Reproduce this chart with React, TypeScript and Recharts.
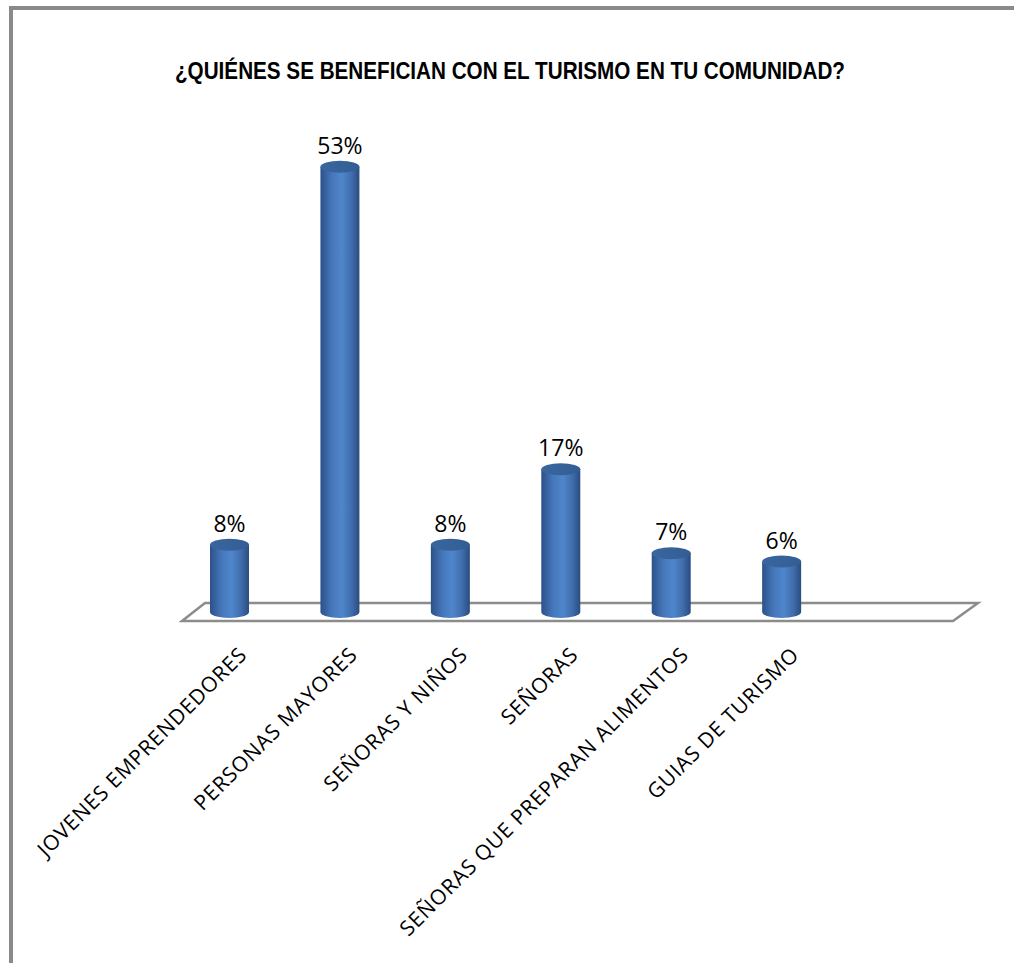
import React from 'react';
import { BarChart, Bar, XAxis, YAxis, LabelList } from 'recharts';

// Survey answers, percent of respondents
const categories = [
  'JOVENES EMPRENDEDORES',
  'PERSONAS MAYORES',
  'SEÑORAS Y NIÑOS',
  'SEÑORAS',
  'SEÑORAS QUE PREPARAN ALIMENTOS',
  'GUIAS DE TURISMO',
  '',
];
const shares: (number | null)[] = [8, 53, 8, 17, 7, 6, null];
const title = '¿QUIÉNES SE BENEFICIAN CON EL TURISMO EN TU COMUNIDAD?';

const data = categories.map((name, i) => ({ name, value: shares[i] }));

// layout
const W = 1014;
const H = 963;
const PLOT_LEFT = 174;
const PLOT_TOP = 108;
const PLOT_W = 773;
const PLOT_BOTTOM = 612;
const AXIS_H = 300;

const Cylinder = (props: any) => {
  const { x, y, width, height } = props;
  if (!height || height <= 0) return null;
  const rx = width / 2;
  const ry = 6;
  const cx = x + rx;
  const bottom = y + height;
  const body = `M ${x} ${y} L ${x} ${bottom} A ${rx} ${ry} 0 0 0 ${x + width} ${bottom} L ${x + width} ${y} Z`;
  return (
    <g>
      <path d={body} fill="url(#cylBody)" />
      <ellipse cx={cx} cy={y} rx={rx} ry={ry} fill="url(#cylTop)" />
    </g>
  );
};

const ValueLabel = (props: any) => {
  const { x, y, width, value } = props;
  if (value == null) return null;
  return (
    <text
      x={x + width / 2}
      y={y - 13}
      textAnchor="middle"
      fontFamily="'Open Sans', sans-serif"
      fontSize={23}
      fill="#000"
    >
      {`${value}%`}
    </text>
  );
};

const SlantTick = (props: any) => {
  const { x, y, payload } = props;
  if (!payload.value) return null;
  const tx = x + 19;
  const ty = y + 44;
  return (
    <text
      x={tx}
      y={ty}
      transform={`rotate(-45 ${tx} ${ty})`}
      textAnchor="end"
      fontFamily="'Open Sans', sans-serif"
      fontSize={21}
      letterSpacing={0.8}
      fill="#000"
    >
      {payload.value}
    </text>
  );
};

export default function App() {
  const floor = [
    [PLOT_LEFT + 8, PLOT_BOTTOM + 9],
    [PLOT_LEFT + 779, PLOT_BOTTOM + 9],
    [PLOT_LEFT + 804, PLOT_BOTTOM - 9],
    [PLOT_LEFT + 31, PLOT_BOTTOM - 9],
  ]
    .map((p) => p.join(','))
    .join(' ');

  return (
    <div style={{ position: 'absolute', left: 0, top: 0, width: W, height: H, background: '#fff', overflow: 'hidden' }}>
      <div
        style={{
          position: 'absolute',
          left: 9,
          top: 6,
          width: W,
          height: H,
          borderLeft: '4px solid #8a8a8a',
          borderTop: '4px solid #8a8a8a',
        }}
      />
      <svg width={W} height={H} style={{ position: 'absolute', left: 0, top: 0 }}>
        <text
          x={510}
          y={79}
          textAnchor="middle"
          fontFamily="'Liberation Sans Narrow', 'Arial Narrow', 'Liberation Sans', sans-serif"
          fontWeight="bold"
          fontSize={24}
          textLength={670}
          lengthAdjust="spacingAndGlyphs"
          fill="#000"
        >
          {title}
        </text>
        <polygon points={floor} fill="#fff" stroke="#8c8c8c" strokeWidth={2.5} />
      </svg>
      <div style={{ position: 'absolute', left: 0, top: 0 }}>
        <BarChart
          width={W}
          height={H}
          data={data}
          barCategoryGap={0}
          margin={{ top: PLOT_TOP, left: PLOT_LEFT, right: W - PLOT_LEFT - PLOT_W, bottom: H - PLOT_BOTTOM - AXIS_H }}
        >
          <defs>
            <linearGradient id="cylBody" x1="0" y1="0" x2="1" y2="0">
              <stop offset="0%" stopColor="#2c5188" />
              <stop offset="30%" stopColor="#4677bb" />
              <stop offset="55%" stopColor="#4f86cb" />
              <stop offset="80%" stopColor="#3f6dac" />
              <stop offset="100%" stopColor="#2a4c80" />
            </linearGradient>
            <linearGradient id="cylTop" x1="0" y1="0" x2="1" y2="0">
              <stop offset="0%" stopColor="#3a66a0" />
              <stop offset="100%" stopColor="#325d94" />
            </linearGradient>
          </defs>
          <XAxis
            dataKey="name"
            height={AXIS_H}
            axisLine={false}
            tickLine={false}
            tickSize={0}
            tickMargin={0}
            interval={0}
            tick={<SlantTick />}
          />
          <YAxis hide domain={[0, 60]} />
          <Bar dataKey="value" barSize={39} shape={<Cylinder />} isAnimationActive={false}>
            <LabelList dataKey="value" content={<ValueLabel />} />
          </Bar>
        </BarChart>
      </div>
    </div>
  );
}
